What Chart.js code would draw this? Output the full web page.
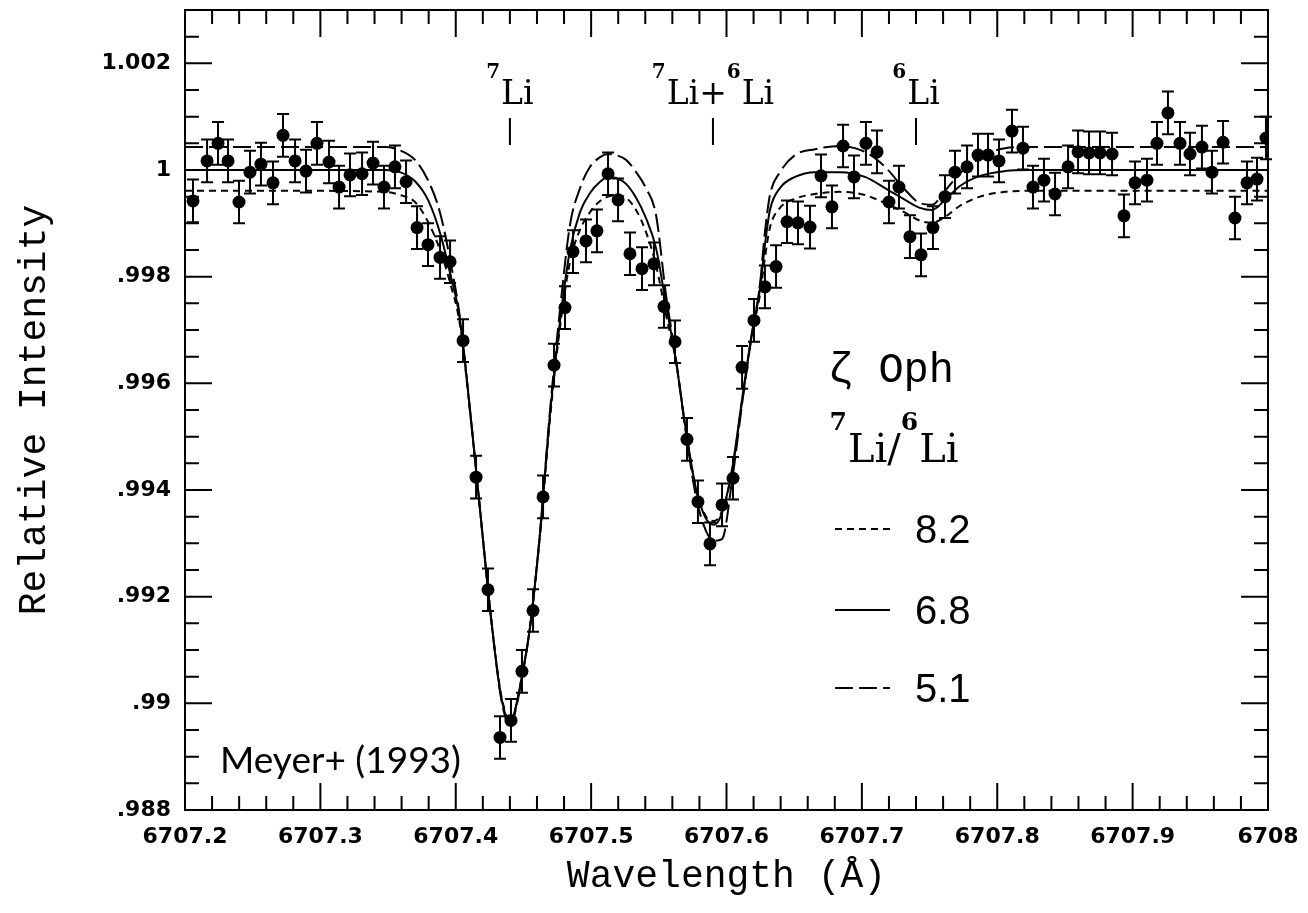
<!DOCTYPE html>
<html>
<head>
<meta charset="utf-8">
<script src="https://cdn.jsdelivr.net/npm/chart.js@4.4.0/dist/chart.umd.min.js"></script>
<style>
  html, body { margin: 0; padding: 0; background: #fff; }
  #wrap { width: 1308px; height: 913px; }
</style>
</head>
<body>
<div id="wrap"><canvas id="spectrum"></canvas></div>
<script>
// zeta Oph, Li I 6708 region: observed relative intensity
const obsWave = [
  6707.2059, 6707.2163, 6707.2244, 6707.2318, 6707.2399, 6707.2480, 6707.2561, 6707.2650,
  6707.2724, 6707.2813, 6707.2894, 6707.2975, 6707.3064, 6707.3138, 6707.3219, 6707.3308,
  6707.3389, 6707.3470, 6707.3551, 6707.3633, 6707.3714, 6707.3795, 6707.3884, 6707.3958,
  6707.4054, 6707.4150, 6707.4238, 6707.4327, 6707.4408, 6707.4489, 6707.4571, 6707.4645,
  6707.4726, 6707.4807, 6707.4866, 6707.4962, 6707.5043, 6707.5125, 6707.5199, 6707.5287,
  6707.5376, 6707.5464, 6707.5538, 6707.5620, 6707.5708, 6707.5789, 6707.5878, 6707.5967,
  6707.6048, 6707.6115, 6707.6203, 6707.6284, 6707.6366, 6707.6447, 6707.6528, 6707.6617,
  6707.6698, 6707.6779, 6707.6861, 6707.6942, 6707.7030, 6707.7112, 6707.7200, 6707.7274,
  6707.7355, 6707.7437, 6707.7525, 6707.7614, 6707.7688, 6707.7777, 6707.7858, 6707.7932,
  6707.8013, 6707.8109, 6707.8190, 6707.8264, 6707.8345, 6707.8427, 6707.8523, 6707.8597,
  6707.8678, 6707.8759, 6707.8848, 6707.8936, 6707.9018, 6707.9106, 6707.9180, 6707.9261,
  6707.9350, 6707.9424, 6707.9512, 6707.9586, 6707.9668, 6707.9756, 6707.9845, 6707.9919,
  6707.9985
];
const obsFlux = [
  0.99942, 1.00017, 1.00050, 1.00017, 0.99940, 0.99996, 1.00011, 0.99976,
  1.00065, 1.00017, 0.99998, 1.00050, 1.00015, 0.99968, 0.99991, 0.99993,
  1.00013, 0.99968, 1.00006, 0.99978, 0.99892, 0.99860, 0.99836, 0.99828,
  0.99680, 0.99424, 0.99213, 0.98936, 0.98968, 0.99060, 0.99174, 0.99387,
  0.99634, 0.99742, 0.99847, 0.99867, 0.99886, 0.99993, 0.99944, 0.99843,
  0.99815, 0.99824, 0.99744, 0.99678, 0.99495, 0.99378, 0.99299, 0.99372,
  0.99422, 0.99630, 0.99718, 0.99781, 0.99819, 0.99903, 0.99901, 0.99893,
  0.99989, 0.99931, 1.00045, 0.99987, 1.00050, 1.00034, 0.99940, 0.99968,
  0.99875, 0.99841, 0.99892, 0.99950, 0.99996, 1.00006, 1.00028, 1.00028,
  1.00017, 1.00073, 1.00041, 0.99968, 0.99981, 0.99955, 1.00006, 1.00034,
  1.00032, 1.00032, 1.00030, 0.99914, 0.99976, 0.99981, 1.00050, 1.00107,
  1.00050, 1.00030, 1.00043, 0.99996, 1.00052, 0.99910, 0.99976, 0.99983,
  1.00060
];
const obsErr = 0.0004;

// model profiles for three isotope ratios
const modelWave = [
  6707.2000, 6707.2850, 6707.3477, 6707.3588, 6707.3699, 6707.3795, 6707.3884, 6707.3958,
  6707.4031, 6707.4105, 6707.4179, 6707.4253, 6707.4327, 6707.4364, 6707.4401, 6707.4438,
  6707.4475, 6707.4549, 6707.4622, 6707.4696, 6707.4770, 6707.4844, 6707.4918, 6707.4992,
  6707.5066, 6707.5125, 6707.5184, 6707.5258, 6707.5332, 6707.5405, 6707.5479, 6707.5553,
  6707.5627, 6707.5701, 6707.5775, 6707.5849, 6707.5908, 6707.5967, 6707.6041, 6707.6115,
  6707.6188, 6707.6247, 6707.6284, 6707.6321, 6707.6395, 6707.6506, 6707.6654, 6707.6838,
  6707.7023, 6707.7171, 6707.7319, 6707.7429, 6707.7518, 6707.7614, 6707.7725, 6707.7873,
  6707.8057, 6707.8242, 6708.0000
];
const model82 = [
  0.99961, 0.99961, 0.99959, 0.99953, 0.99940, 0.99903, 0.99850, 0.99789,
  0.99710, 0.99548, 0.99364, 0.99178, 0.99028, 0.98985, 0.98963, 0.98987,
  0.99032, 0.99144, 0.99314, 0.99533, 0.99705, 0.99828, 0.99888, 0.99921,
  0.99942, 0.99950, 0.99953, 0.99948, 0.99925, 0.99884, 0.99822, 0.99729,
  0.99641, 0.99510, 0.99402, 0.99350, 0.99342, 0.99361, 0.99435, 0.99566,
  0.99692, 0.99766, 0.99836, 0.99892, 0.99929, 0.99946, 0.99955, 0.99959,
  0.99953, 0.99938, 0.99920, 0.99905, 0.99901, 0.99912, 0.99933, 0.99950,
  0.99959, 0.99961, 0.99961
];
const model68 = [
  1.00000, 1.00000, 1.00000, 0.99996, 0.99979, 0.99944, 0.99882, 0.99807,
  0.99720, 0.99551, 0.99364, 0.99178, 0.99024, 0.98981, 0.98959, 0.98987,
  0.99032, 0.99144, 0.99318, 0.99542, 0.99716, 0.99850, 0.99921, 0.99957,
  0.99978, 0.99987, 0.99985, 0.99974, 0.99948, 0.99910, 0.99854, 0.99748,
  0.99641, 0.99510, 0.99402, 0.99346, 0.99335, 0.99357, 0.99439, 0.99570,
  0.99695, 0.99776, 0.99860, 0.99925, 0.99966, 0.99987, 0.99996, 0.99996,
  0.99987, 0.99966, 0.99944, 0.99929, 0.99925, 0.99944, 0.99970, 0.99989,
  0.99998, 1.00000, 1.00000
];
const model51 = [
  1.00043, 1.00043, 1.00043, 1.00037, 1.00019, 0.99981, 0.99920, 0.99832,
  0.99723, 0.99551, 0.99364, 0.99178, 0.99022, 0.98976, 0.98953, 0.98983,
  0.99028, 0.99144, 0.99318, 0.99548, 0.99738, 0.99897, 0.99966, 1.00006,
  1.00024, 1.00030, 1.00028, 1.00019, 0.99996, 0.99966, 0.99916, 0.99766,
  0.99645, 0.99505, 0.99387, 0.99323, 0.99305, 0.99308, 0.99417, 0.99561,
  0.99692, 0.99785, 0.99884, 0.99953, 0.99996, 1.00028, 1.00039, 1.00045,
  1.00034, 1.00006, 0.99963, 0.99938, 0.99935, 0.99961, 0.99994, 1.00022,
  1.00041, 1.00043, 1.00043
];

const xTickValues = [6707.2, 6707.3, 6707.4, 6707.5, 6707.6, 6707.7, 6707.8, 6707.9, 6708.0];
const xTickLabels = ['6707.2', '6707.3', '6707.4', '6707.5', '6707.6', '6707.7', '6707.8', '6707.9', '6708'];
const yTickValues = [0.988, 0.990, 0.992, 0.994, 0.996, 0.998, 1.000, 1.002];
const yTickLabels = ['.988', '.99', '.992', '.994', '.996', '.998', '1', '1.002'];

// line identifications: [wavelength, label pieces (text, superscript?)]
const lineWave = [6707.44, 6707.59, 6707.74];
const lineLabels = [
  [['7', true], ['Li', false]],
  [['7', true], ['Li+', false], ['6', true], ['Li', false]],
  [['6', true], ['Li', false]]
];

const ratioLabels = ['8.2', '6.8', '5.1'];
const ratioDash = [[7, 5], [], [18, 6]];

const toPoints = (xs, ys) => xs.map((x, i) => ({ x: x, y: ys[i] }));

const SERIF = '"DejaVu Serif", serif';
const MONO = '"Liberation Mono", monospace';
const TICK_FONT = { family: '"DejaVu Sans"', size: 22, weight: 'bold' };

function drawPieces(ctx, pieces, cx, baseline, size) {
  const supSize = Math.round(size * 0.62);
  const widths = pieces.map(([t, sup]) => {
    ctx.font = sup ? `bold ${supSize}px ${SERIF}` : `${size}px ${SERIF}`;
    return ctx.measureText(t).width + (sup ? 1 : 0);
  });
  let x = cx - widths.reduce((a, b) => a + b, 0) / 2;
  pieces.forEach(([t, sup], i) => {
    ctx.font = sup ? `bold ${supSize}px ${SERIF}` : `${size}px ${SERIF}`;
    ctx.fillText(t, x, sup ? baseline - size * 0.8 : baseline);
    x += widths[i];
  });
}

// frame with inward ticks on all four sides
const framePlugin = {
  id: 'frame',
  afterDraw(chart) {
    const { ctx, chartArea: a, scales: { x, y } } = chart;
    ctx.save();
    ctx.strokeStyle = '#000';
    ctx.lineWidth = 2;
    ctx.strokeRect(a.left, a.top, a.right - a.left, a.bottom - a.top);
    ctx.beginPath();
    for (let i = 0; i <= 40; i++) {
      const px = x.getPixelForValue(x.min + i * 0.02);
      const len = i % 5 === 0 ? 27 : 14;
      ctx.moveTo(px, a.bottom); ctx.lineTo(px, a.bottom - len);
      ctx.moveTo(px, a.top); ctx.lineTo(px, a.top + len);
    }
    for (let i = 0; i <= 30; i++) {
      const py = y.getPixelForValue(y.min + i * 0.0005);
      const len = i % 4 === 0 ? 27 : 14;
      ctx.moveTo(a.left, py); ctx.lineTo(a.left + len, py);
      ctx.moveTo(a.right, py); ctx.lineTo(a.right - len, py);
    }
    ctx.stroke();
    ctx.restore();
  }
};

// vertical error bars with caps on the observed points
const errorBarPlugin = {
  id: 'errorBars',
  afterDatasetsDraw(chart) {
    const { ctx, scales: { x, y } } = chart;
    ctx.save();
    ctx.strokeStyle = '#000';
    ctx.lineWidth = 2;
    ctx.beginPath();
    obsWave.forEach((w, i) => {
      const px = x.getPixelForValue(w);
      const top = y.getPixelForValue(obsFlux[i] + obsErr);
      const bot = y.getPixelForValue(obsFlux[i] - obsErr);
      ctx.moveTo(px, top); ctx.lineTo(px, bot);
      ctx.moveTo(px - 6, top); ctx.lineTo(px + 6, top);
      ctx.moveTo(px - 6, bot); ctx.lineTo(px + 6, bot);
    });
    ctx.stroke();
    ctx.restore();
  }
};

// line identifications, legend and credit
const notesPlugin = {
  id: 'notes',
  afterDraw(chart) {
    const { ctx, chartArea: a, scales: { x } } = chart;
    ctx.save();
    ctx.fillStyle = '#000';
    ctx.strokeStyle = '#000';
    ctx.textBaseline = 'alphabetic';
    ctx.textAlign = 'left';

    lineWave.forEach((w, i) => {
      const px = x.getPixelForValue(w);
      drawPieces(ctx, lineLabels[i], px, a.top + 94, 33);
      ctx.lineWidth = 2;
      ctx.beginPath();
      ctx.moveTo(px, a.top + 108); ctx.lineTo(px, a.top + 135);
      ctx.stroke();
    });

    const lx = a.left + 643;
    ctx.font = `42px ${MONO}`;
    ctx.fillText('\u03b6 Oph', lx, a.top + 372);
    drawPieces(ctx, [['7', true], ['Li/', false], ['6', true], ['Li', false]], lx + 66, a.top + 452, 40);

    const rows = [a.top + 519, a.top + 600, a.top + 678];
    ratioLabels.forEach((t, i) => {
      ctx.lineWidth = 2;
      ctx.setLineDash(ratioDash[i]);
      ctx.beginPath();
      ctx.moveTo(lx + 7, rows[i]); ctx.lineTo(lx + 62, rows[i]);
      ctx.stroke();
      ctx.setLineDash([]);
      ctx.font = `40px "Liberation Sans", sans-serif`;
      ctx.fillText(t, lx + 87, rows[i] + 14);
    });

    ctx.font = '37px Lato, sans-serif';
    ctx.fillText('Meyer+ (1993)', a.left + 35, a.top + 763);
    ctx.restore();
  }
};

const modelLine = (data, dash) => ({
  type: 'line',
  data: data,
  borderColor: '#000',
  borderWidth: 2,
  borderDash: dash,
  pointRadius: 0,
  fill: false,
  cubicInterpolationMode: 'monotone'
});

new Chart(document.getElementById('spectrum'), {
  type: 'scatter',
  data: {
    datasets: [
      modelLine(toPoints(modelWave, model82), ratioDash[0]),
      modelLine(toPoints(modelWave, model68), ratioDash[1]),
      modelLine(toPoints(modelWave, model51), ratioDash[2]),
      {
        data: toPoints(obsWave, obsFlux),
        pointRadius: 6.5,
        pointBackgroundColor: '#000',
        pointBorderColor: '#000',
        pointBorderWidth: 0
      }
    ]
  },
  options: {
    responsive: true,
    maintainAspectRatio: false,
    animation: false,
    layout: { padding: { top: 10, right: 40, left: 0, bottom: 0 } },
    plugins: { legend: { display: false }, tooltip: { enabled: false } },
    scales: {
      x: {
        type: 'linear',
        min: 6707.2,
        max: 6708,
        grid: { display: false },
        border: { display: false },
        afterFit: (scale) => {
          scale.height = 103;
          scale.paddingLeft = 0;
          scale.paddingRight = 0;
        },
        afterBuildTicks: (scale) => { scale.ticks = xTickValues.map(v => ({ value: v })); },
        ticks: {
          autoSkip: false,
          maxRotation: 0,
          padding: 6,
          color: '#000',
          font: TICK_FONT,
          callback: (v, i) => xTickLabels[i]
        },
        title: {
          display: true,
          text: 'Wavelength (\u00c5)',
          color: '#000',
          font: { family: MONO, size: 38 },
          padding: { top: 0, bottom: 13 }
        }
      },
      y: {
        type: 'linear',
        min: 0.988,
        max: 1.003,
        grid: { display: false },
        border: { display: false },
        afterFit: (scale) => {
          scale.width = 185;
          scale.paddingTop = 0;
          scale.paddingBottom = 0;
        },
        afterBuildTicks: (scale) => { scale.ticks = yTickValues.map(v => ({ value: v })); },
        ticks: {
          autoSkip: false,
          padding: 6,
          color: '#000',
          font: TICK_FONT,
          callback: (v, i) => yTickLabels[i]
        },
        title: {
          display: true,
          text: 'Relative Intensity',
          color: '#000',
          font: { family: MONO, size: 38 },
          padding: { top: 12, bottom: 0 }
        }
      }
    }
  },
  plugins: [framePlugin, errorBarPlugin, notesPlugin]
});
</script>
</body>
</html>
